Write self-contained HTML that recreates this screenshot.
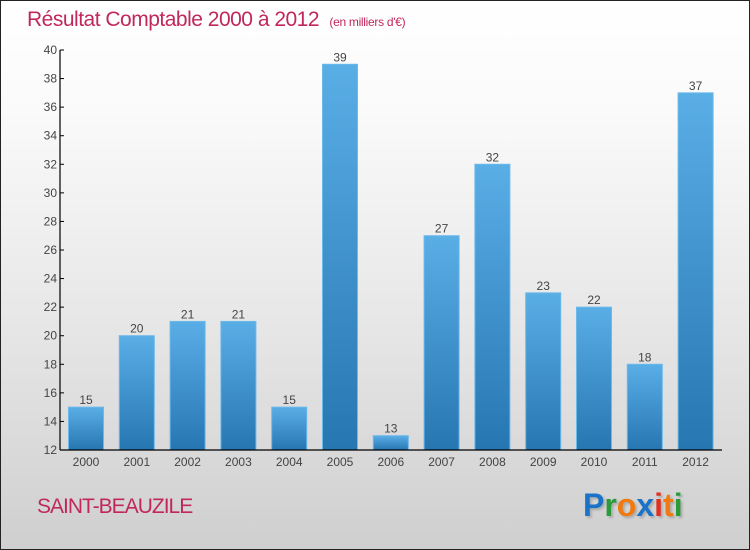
<!DOCTYPE html>
<html><head><meta charset="utf-8"><style>
body{margin:0}
#c{position:relative;width:748px;height:548px;border:1px solid #222;background:linear-gradient(#fff,#fafafa 20%,#e6e6e6 60%,#cfcfcf);font-family:"Liberation Sans",sans-serif;overflow:hidden}
.t{position:absolute;white-space:nowrap}
</style></head><body>
<div id="c">
<div class="t" style="left:26px;top:7px;font-size:21px;color:#c0285a;letter-spacing:-0.5px">Résultat Comptable 2000 à 2012 <span style="font-size:12px;margin-left:5px;letter-spacing:-0.3px">(en milliers d'€)</span></div>
<div class="t" style="left:36px;top:494px;font-size:21px;color:#c0285a;letter-spacing:-1px">SAINT-BEAUZILE</div>
<div class="t" style="left:582px;top:486px;font-size:32px;font-weight:bold;text-shadow:2px 2px 2px #aaa"><span style="color:#1a73c8">P</span><span style="color:#2a9a3a">r</span><span style="color:#f07a10">o</span><span style="color:#1a73c8">x</span><span style="color:#e03020">i</span><span style="color:#f07a10">t</span><span style="color:#2a9a3a">i</span></div>
<svg id="s" width="748" height="548" style="position:absolute;left:0;top:0">
<defs><linearGradient id="g" x1="0" y1="0" x2="0" y2="1"><stop offset="0" stop-color="#5aaee6"/><stop offset="1" stop-color="#2676b2"/></linearGradient></defs>
</svg>
</div>
<script>
const categories=["2000","2001","2002","2003","2004","2005","2006","2007","2008","2009","2010","2011","2012"];
const values=[15,20,21,21,15,39,13,27,32,23,22,18,37];
const yTicks=[12,14,16,18,20,22,24,26,28,30,32,34,36,38,40];
const s=document.getElementById('s'),NS='http://www.w3.org/2000/svg';
const x0=59,yB=449,yT=49,yMin=12,yMax=40,step=50.8,bw=35;
const y=v=>yB-(v-yMin)/(yMax-yMin)*(yB-yT);
const xc=i=>x0+26+i*step;
function mk(t,a){const e=document.createElementNS(NS,t);for(const k in a)e.setAttribute(k,a[k]);s.appendChild(e);return e;}
values.forEach((v,i)=>{
const r=mk('rect',{x:xc(i)-bw/2,y:y(v),width:bw,height:yB-y(v),fill:'url(#g)',stroke:'#6bb8ea','stroke-width':1});


const l=mk('text',{x:xc(i),y:y(v)-3,'text-anchor':'middle','font-size':12,fill:'#444','font-family':'Liberation Sans'});l.textContent=v;


const c=mk('text',{x:xc(i),y:yB+16,'text-anchor':'middle','font-size':12,fill:'#444','font-family':'Liberation Sans'});c.textContent=categories[i];


});
yTicks.forEach(t=>{
mk('line',{x1:x0,x2:x0+4,y1:y(t),y2:y(t),stroke:'#000'});
const e=mk('text',{x:x0-3,y:y(t)+4,'text-anchor':'end','font-size':12,fill:'#444','font-family':'Liberation Sans'});e.textContent=t;


});
const ya=mk('line',{x1:x0,x2:x0,y1:yT,y2:yB,stroke:'#000','stroke-width':1.2});


const xa=mk('line',{x1:x0,x2:721,y1:yB,y2:yB,stroke:'#000','stroke-width':1.2});


</script>
</body></html>
